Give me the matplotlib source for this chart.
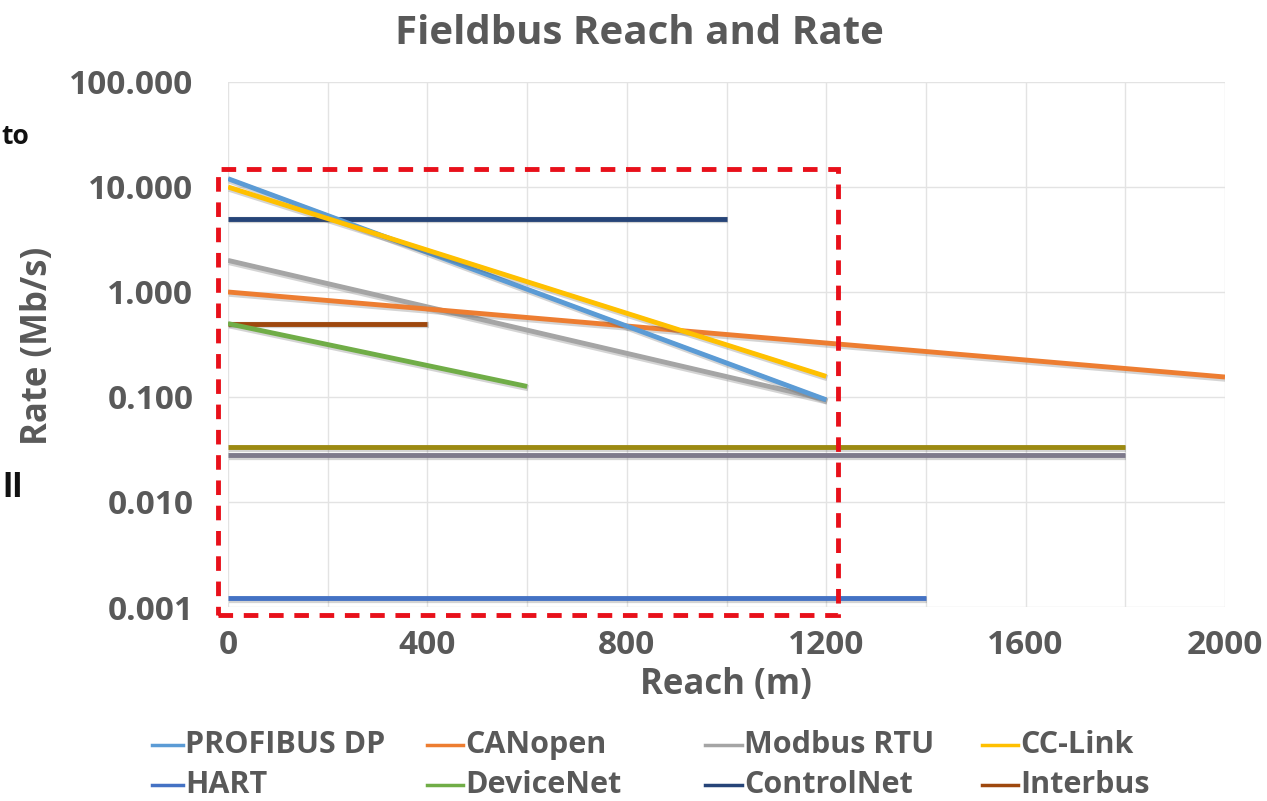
import matplotlib
matplotlib.use("Agg")
import matplotlib.pyplot as plt
import matplotlib.patheffects as pe
from matplotlib.patches import Rectangle
from matplotlib.lines import Line2D
from matplotlib.ticker import FixedLocator, FuncFormatter, NullFormatter

plt.rcParams['font.family'] = ['Open Sans', 'DejaVu Sans']

# Data: (reach m, rate Mb/s) endpoints per series
series_names = ["PROFIBUS DP", "CANopen", "Modbus RTU", "CC-Link",
                "HART", "DeviceNet", "ControlNet", "Interbus"]
series_x = [[0, 1200], [0, 2000], [0, 1200], [0, 1200],
            [0, 1400], [0, 600], [0, 1000], [0, 400]]
series_y = [[12.0, 0.094], [1.0, 0.155], [2.0, 0.094], [10.0, 0.157],
            [0.00122, 0.00122], [0.5, 0.126], [5.0, 5.0], [0.5, 0.5]]
series_colors = ["#5B9BD5", "#ED7D31", "#A5A5A5", "#FFC000",
                 "#4472C4", "#70AD47", "#264478", "#9E480E"]

# Unlabelled extra series (not in legend)
extra_x = [[0, 1800], [0, 1800]]
extra_y = [[0.0335, 0.0335], [0.028, 0.028]]
extra_colors = ["#9C8A12", "#7E7A8C"]

x_ticks = [0, 400, 800, 1200, 1600, 2000]
y_ticks = [0.001, 0.01, 0.1, 1, 10, 100]

W, H = 1267, 801
fig = plt.figure(figsize=(W / 100, H / 100), dpi=100)
ax = fig.add_axes([228 / W, 1 - 607 / H, (1225 - 228) / W, (607 - 82) / H])

ax.set_yscale('log')
ax.set_xlim(0, 2000)
ax.set_ylim(0.001, 100)

shadow = [pe.SimpleLineShadow(offset=(0.8, -1.2), alpha=0.25, shadow_color='#555555', linewidth=4.5), pe.Normal()]

for xs, ys, c in zip(extra_x, extra_y, extra_colors):
    ax.plot(xs, ys, color=c, lw=3.5, solid_capstyle='butt', path_effects=shadow)

order = [4, 6, 7, 5, 2, 1, 0, 3]
for i in order:
    ax.plot(series_x[i], series_y[i], color=series_colors[i], lw=3.5,
            solid_capstyle='butt', label=series_names[i], path_effects=shadow)

# grid
ax.xaxis.set_major_locator(FixedLocator(x_ticks))
ax.xaxis.set_minor_locator(FixedLocator(list(range(0, 2001, 200))))
ax.xaxis.set_minor_formatter(NullFormatter())
ax.yaxis.set_major_locator(FixedLocator(y_ticks))
ax.yaxis.set_minor_locator(FixedLocator([]))
ax.yaxis.set_major_formatter(FuncFormatter(lambda v, p: f"{v:.3f}"))
ax.grid(True, which='both', axis='x', color='#E3E3E3', lw=1)
ax.grid(True, which='major', axis='y', color='#E3E3E3', lw=1)
ax.set_axisbelow(True)
for s in ax.spines.values():
    s.set_visible(False)
ax.tick_params(which='both', length=0)
ax.tick_params(axis='y', pad=25)
ax.tick_params(axis='x', pad=16)
for lab in ax.get_xticklabels() + ax.get_yticklabels():
    lab.set_fontsize(24)
    lab.set_fontweight('bold')
    lab.set_color('#595959')

fig.text(726 / W, 1 - 685 / H, "Reach (m)", ha='center', va='center',
         fontsize=25, fontweight='bold', color='#595959')
fig.text(38 / W, 1 - 346 / H, "Rate (Mb/s)", ha='center', va='center', rotation=90,
         fontsize=25, fontweight='bold', color='#595959')

fig.text(639 / W, 1 - 33 / H, "Fieldbus Reach and Rate", ha='center', va='center',
         fontsize=29, fontweight='bold', color='#595959')

# red dashed rectangle
rect = Rectangle((-20, 0.00084), 1244, 14.8 - 0.00084, fill=False, edgecolor='#E8101A',
                 lw=3.5, ls=(0, (3, 2.2)), clip_on=False, zorder=5)
ax.add_patch(rect)

# clipped slide text on the left
fig.text(1 / W, 1 - 137 / H, "to", ha='left', va='center', fontsize=19, fontweight='bold', color='#111111')
fig.text(23 / W, 1 - 488 / H, "ll", ha='right', va='center', fontsize=24, fontweight='bold', color='#111111')

# legend (Excel-style layout)
leg_order = [0, 1, 2, 3, 4, 5, 6, 7]
col_line_x = [(152, 183), (427, 463), (705, 742), (982, 1018)]
row_y = [745, 785]
for k, i in enumerate(leg_order):
    r, c = divmod(k, 4)
    x0, x1 = col_line_x[c]
    y = 1 - row_y[r] / H
    fig.add_artist(Line2D([x0 / W, x1 / W], [y, y], transform=fig.transFigure,
                          color=series_colors[i], lw=2.5))
    fig.text((x1 + 2) / W, y, series_names[i], ha='left', va='center',
             fontsize=22, fontweight='bold', color='#595959')

fig.savefig("out.png", dpi=100)
